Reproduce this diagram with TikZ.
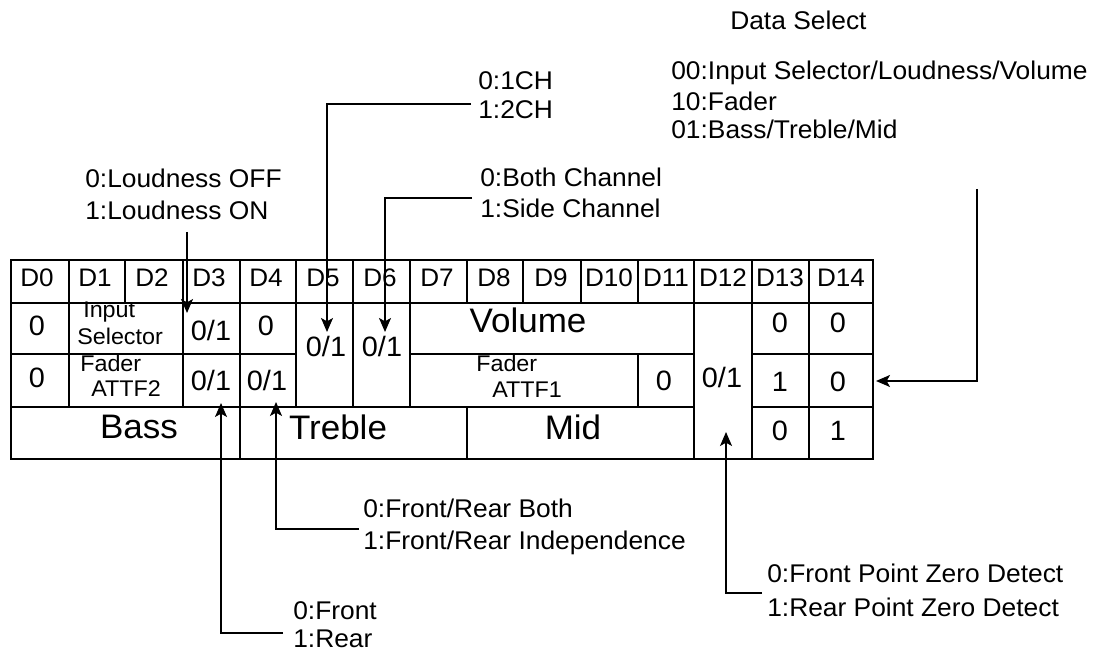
\documentclass[tikz,border=0pt]{standalone}
\usepackage{fontspec}
\setmainfont{Liberation Sans}[FakeStretch=1.03]
\usetikzlibrary{arrows.meta}
\begin{document}
\begin{tikzpicture}[x=0.75pt,y=-0.75pt,
  grid/.style={line width=1.3pt},
  conn/.style={line width=1.1pt},
  arr/.style={conn,-{Stealth[length=10.5pt,width=9pt,inset=2.5pt]}},
  txt/.style={inner sep=0pt,text height=0.72em,text depth=0pt},
  lbl/.style={txt,anchor=west,font=\fontsize{19.2}{22}\selectfont},
  hdr/.style={txt,font=\fontsize{19}{22}\selectfont},
  val/.style={txt,font=\fontsize{21}{24}\selectfont},
  big/.style={txt,font=\fontsize{25.5}{29}\selectfont},
  sml/.style={txt,anchor=west,font=\fontsize{17}{19}\selectfont}]
\useasboundingbox (0,0) rectangle (1106,655);

% table grid
\draw[grid] (11,260) rectangle (873,459);
\draw[grid] (11,303) -- (873,303);
\draw[grid] (11,354) -- (296,354) (410,354) -- (694,354) (752,354) -- (873,354);
\draw[grid] (11,407) -- (694,407) (752,407) -- (873,407);
\foreach \x in {69,183,296,353,410} \draw[grid] (\x,260) -- (\x,407);
\foreach \x in {240,694,752,809} \draw[grid] (\x,260) -- (\x,459);
\foreach \x in {125,523,581} \draw[grid] (\x,260) -- (\x,303);
\draw[grid] (467,260) -- (467,303) (467,407) -- (467,459);
\draw[grid] (638,260) -- (638,303) (638,354) -- (638,407);

% header
\foreach \n/\x in {0/37,1/95,2/152,3/209,4/266,5/323,6/380,7/437,8/494,9/551,10/609,11/666,12/723,13/780,14/841}
  \node[hdr] (h\n) at (\x,282) {D\n};

% row 1
\node[val] (ra0) at (37,331) {0};
\node[sml] (isA) at (83,313) {Input};
\node[sml] (isB) at (77,340) {Selector};
\node[val] (ra3) at (211,336) {0/1};
\node[val] (ra4) at (266,331) {0};
\node[val] (d5) at (326,352) {0/1};
\node[val] (d6) at (382,352) {0/1};
\node[big] (vol) at (528,328) {Volume};
\node[val] (d12) at (722,383) {0/1};
\node[val] (ra13) at (780,328) {0};
\node[val] (ra14) at (838,328) {0};
% row 2
\node[val] (rb0) at (37,383) {0};
\node[sml] (faA) at (80,367) {Fader};
\node[sml] (faB) at (91,392) {ATTF2};
\node[val] (rb3) at (211,386) {0/1};
\node[val] (rb4) at (267,386) {0/1};
\node[sml] (fbA) at (476,367) {Fader};
\node[sml] (fbB) at (492,393) {ATTF1};
\node[val] (rb11) at (664,386) {0};
\node[val] (rb13) at (780,387) {1};
\node[val] (rb14) at (838,387) {0};
% row 3
\node[big] (bass) at (139,434) {Bass};
\node[big] (treb) at (338,435) {Treble};
\node[big] (mid) at (573,435) {Mid};
\node[val] (rc13) at (780,436) {0};
\node[val] (rc14) at (838,436) {1};

% labels
\node[lbl] (loudA) at (85,183) {0:Loudness OFF};
\node[lbl] (loudB) at (85,215) {1:Loudness ON};
\node[lbl] (chA) at (478,85) {0:1CH};
\node[lbl] (chB) at (478,114) {1:2CH};
\node[lbl] (sdA) at (480,182) {0:Both Channel};
\node[lbl] (sdB) at (480,213) {1:Side Channel};
\node[lbl] (dsT) at (730,25) {Data Select};
\node[lbl] (dsA) at (671,75) {00:Input Selector/Loudness/Volume};
\node[lbl] (dsB) at (671,106) {10:Fader};
\node[lbl] (dsC) at (671,134) {01:Bass/Treble/Mid};
\node[lbl] (frbA) at (363,513) {0:Front/Rear Both};
\node[lbl] (frbB) at (363,545) {1:Front/Rear Independence};
\node[lbl] (frA) at (293,615) {0:Front};
\node[lbl] (frB) at (293,643) {1:Rear};
\node[lbl] (zA) at (767,578) {0:Front Point Zero Detect};
\node[lbl] (zB) at (767,612) {1:Rear Point Zero Detect};

% connectors
\coordinate (loudS) at (187,232); \coordinate (loudT) at (187,313);
\coordinate (chS) at (471,104);   \coordinate (chT) at (327,332);
\coordinate (sdS) at (472,198);   \coordinate (sdT) at (385,332);
\coordinate (dsS) at (977,189);   \coordinate (dsE) at (876,381);
\coordinate (frS) at (283,633);   \coordinate (frT) at (221,403);
\coordinate (frbS) at (359,529);  \coordinate (frbT) at (276,402);
\coordinate (zS) at (762,593);    \coordinate (zT) at (726,432);
\draw[arr] (loudS) -- (loudT);
\draw[arr] (chS) -| (chT);
\draw[arr] (sdS) -| (sdT);
\draw[arr] (dsS) |- (dsE);
\draw[arr] (frS) -| (frT);
\draw[arr] (frbS) -| (frbT);
\draw[arr] (zS) -| (zT);
\end{tikzpicture}
\end{document}
